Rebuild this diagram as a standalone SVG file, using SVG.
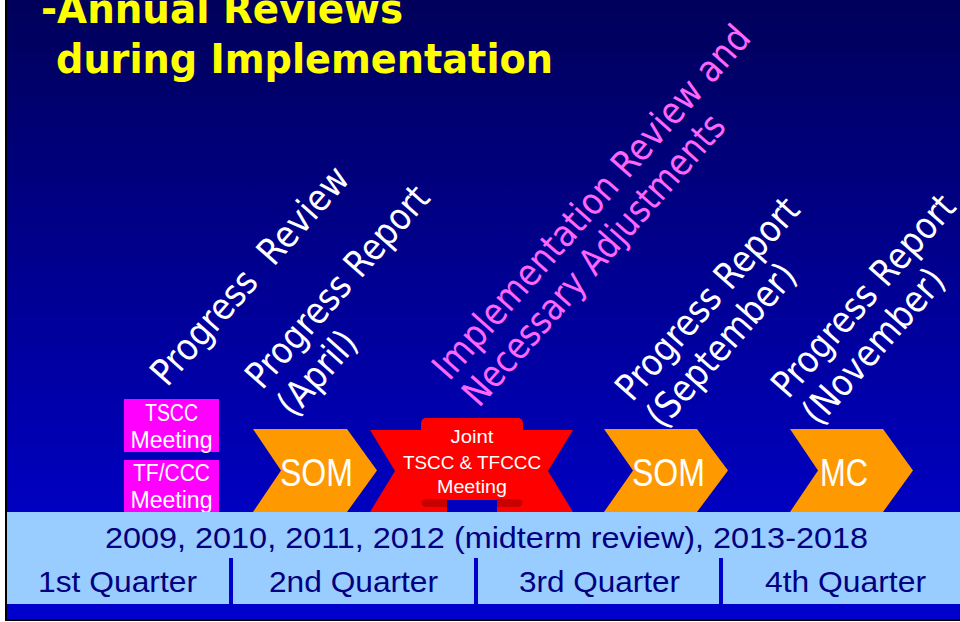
<svg xmlns="http://www.w3.org/2000/svg" width="960" height="622" viewBox="0 0 960 622">
<defs>
<linearGradient id="bg" x1="0" y1="0" x2="0" y2="1">
<stop offset="0" stop-color="#00005A"/>
<stop offset="0.82" stop-color="#0000C0"/>
<stop offset="1" stop-color="#0000C8"/>
</linearGradient>
</defs>
<style>
.title{font-family:"DejaVu Sans",Verdana,sans-serif;font-weight:bold;font-size:40px;fill:#FFFF00}
.lbl{font-family:"DejaVu Sans",sans-serif;font-size:37px;fill:#FFFFFF}
.pink{fill:#FF66FF}
.box{fill:#FF00FF}
.chev{fill:#FF9900}
.red{fill:#FF0000}
.fold{fill:#C80000}
.wt{font-family:"Liberation Sans",Arial,sans-serif;fill:#FFFFFF;text-anchor:middle}
.bar{font-family:"Liberation Sans",Arial,sans-serif;font-size:30px;fill:#000080;text-anchor:middle}
</style>
<rect width="960" height="622" fill="#FFFFFF"/>
<rect x="5" y="0" width="955" height="621" fill="#000000"/>
<rect x="7" y="0" width="953" height="619" fill="url(#bg)"/>

<g id="title">
<text class="title" x="41" y="23" textLength="362" lengthAdjust="spacingAndGlyphs">-Annual Reviews</text>
<text class="title" x="56" y="73" textLength="497" lengthAdjust="spacingAndGlyphs">during Implementation</text>
</g>

<g id="label-progress-review" transform="translate(167,388) rotate(-48.5)">
<text class="lbl" x="0" y="0" textLength="278" lengthAdjust="spacingAndGlyphs">Progress&#160; Review</text>
</g>
<g id="label-april" transform="translate(262,391) rotate(-48.5)">
<text class="lbl" x="0" y="0" textLength="256" lengthAdjust="spacingAndGlyphs">Progress Report</text>
<text class="lbl" x="0" y="42" textLength="100" lengthAdjust="spacingAndGlyphs">(April)</text>
</g>
<g id="label-implementation" transform="translate(449,382) rotate(-48.5)">
<text class="lbl pink" x="0" y="0" textLength="458" lengthAdjust="spacingAndGlyphs">Implementation Review and</text>
<text class="lbl pink" x="0" y="40" textLength="375" lengthAdjust="spacingAndGlyphs">Necessary Adjustments</text>
</g>
<g id="label-september" transform="translate(632,403) rotate(-48.5)">
<text class="lbl" x="0" y="0" textLength="256" lengthAdjust="spacingAndGlyphs">Progress Report</text>
<text class="lbl" x="0" y="41" textLength="205" lengthAdjust="spacingAndGlyphs">(September)</text>
</g>
<g id="label-november" transform="translate(788,400) rotate(-48.5)">
<text class="lbl" x="0" y="0" textLength="256" lengthAdjust="spacingAndGlyphs">Progress Report</text>
<text class="lbl" x="0" y="41" textLength="194" lengthAdjust="spacingAndGlyphs">(November)</text>
</g>

<g id="tscc-meeting">
<rect class="box" x="124" y="399" width="95" height="53"/>
<text class="wt" x="171.5" y="421" font-size="23" textLength="53" lengthAdjust="spacingAndGlyphs">TSCC</text>
<text class="wt" x="171.5" y="448" font-size="23" textLength="82" lengthAdjust="spacingAndGlyphs">Meeting</text>
</g>
<g id="tfccc-meeting">
<rect class="box" x="124" y="460" width="95" height="53"/>
<text class="wt" x="171.5" y="481" font-size="23" textLength="77" lengthAdjust="spacingAndGlyphs">TF/CCC</text>
<text class="wt" x="171.5" y="508" font-size="23" textLength="82" lengthAdjust="spacingAndGlyphs">Meeting</text>
</g>

<g id="som-1">
<polygon class="chev" points="253,429 347,429 377,470.5 347,512 253,512 281,470.5"/>
<text class="wt" x="316.5" y="486" font-size="38" textLength="73" lengthAdjust="spacingAndGlyphs">SOM</text>
</g>

<g id="joint-meeting">
<polygon class="red" points="370,430 447,430 447,512 370,512 395,471"/>
<polygon class="red" points="573,430 497,430 497,512 573,512 548,471"/>
<rect class="red" x="421" y="418" width="102" height="82" rx="5"/>
<path class="fold" d="M447,499 H426 A4.5,4 0 0 0 426,507 H447 Z"/>
<path class="fold" d="M497,499 H518 A4.5,4 0 0 1 518,507 H497 Z"/>
<text class="wt" x="472" y="443" font-size="19" textLength="43" lengthAdjust="spacingAndGlyphs">Joint</text>
<text class="wt" x="472" y="469" font-size="19" textLength="138" lengthAdjust="spacingAndGlyphs">TSCC &amp; TFCCC</text>
<text class="wt" x="472" y="493" font-size="19" textLength="70" lengthAdjust="spacingAndGlyphs">Meeting</text>
</g>

<g id="som-2">
<polygon class="chev" points="604,429 697,429 728,470.5 697,512 604,512 633,470.5"/>
<text class="wt" x="668.5" y="486" font-size="38" textLength="73" lengthAdjust="spacingAndGlyphs">SOM</text>
</g>

<g id="mc">
<polygon class="chev" points="790,429 883,429 913,470.5 883,512 790,512 818,470.5"/>
<text class="wt" x="844" y="486" font-size="38" textLength="48" lengthAdjust="spacingAndGlyphs">MC</text>
</g>

<g id="timeline-bar">
<rect x="7" y="512" width="953" height="92" fill="#99CCFF"/>
<rect x="7" y="604" width="953" height="15" fill="#0000CC"/>
<rect x="229" y="558" width="4" height="46" fill="#0000CC"/>
<rect x="474" y="558" width="4" height="46" fill="#0000CC"/>
<rect x="719" y="558" width="4" height="46" fill="#0000CC"/>
<text class="bar" x="486.5" y="548" textLength="763" lengthAdjust="spacingAndGlyphs">2009, 2010, 2011, 2012 (midterm review), 2013-2018</text>
<text class="bar" x="117.5" y="592" textLength="159" lengthAdjust="spacingAndGlyphs">1st Quarter</text>
<text class="bar" x="353.5" y="592" textLength="169" lengthAdjust="spacingAndGlyphs">2nd Quarter</text>
<text class="bar" x="599.5" y="592" textLength="161" lengthAdjust="spacingAndGlyphs">3rd Quarter</text>
<text class="bar" x="845.5" y="592" textLength="161" lengthAdjust="spacingAndGlyphs">4th Quarter</text>
</g>
</svg>
